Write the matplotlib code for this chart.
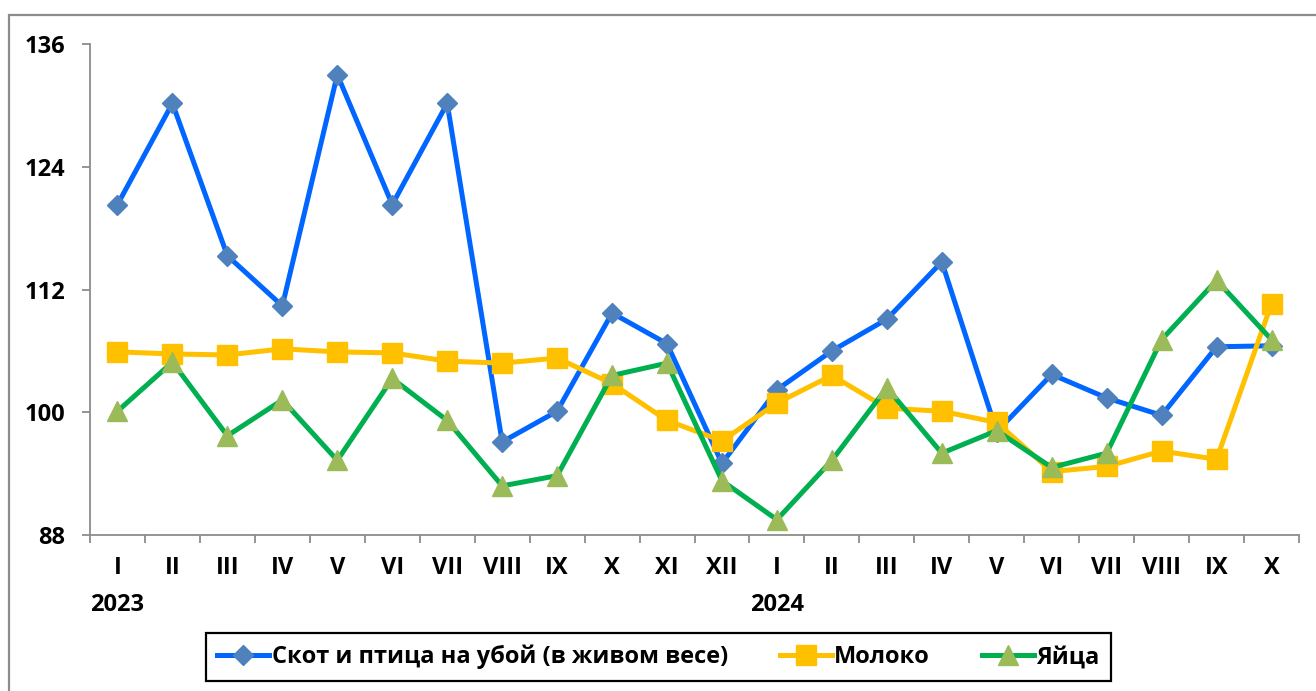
import matplotlib
matplotlib.use("Agg")
import matplotlib.pyplot as plt
from matplotlib.patches import Rectangle

months = ["I", "II", "III", "IV", "V", "VI", "VII", "VIII", "IX", "X", "XI", "XII",
          "I", "II", "III", "IV", "V", "VI", "VII", "VIII", "IX", "X"]
years = {0: "2023", 12: "2024"}

livestock = [120.3, 130.2, 115.3, 110.4, 133.0, 120.3, 130.2, 97.1, 100.1, 109.7, 106.7, 95.0,
             102.2, 106.0, 109.1, 114.7, 98.1, 103.7, 101.4, 99.7, 106.4, 106.5]
milk = [105.9, 105.7, 105.6, 106.2, 105.9, 105.8, 105.0, 104.8, 105.3, 102.8, 99.2, 97.2,
        100.9, 103.6, 100.4, 100.1, 99.0, 94.2, 94.7, 96.2, 95.4, 110.6]
eggs = [100.1, 104.9, 97.7, 101.2, 95.3, 103.3, 99.2, 92.8, 93.8, 103.6, 104.8, 93.3,
        89.5, 95.3, 102.4, 96.0, 98.2, 94.6, 96.0, 107.1, 112.9, 107.1]

series_names = ["Скот и птица на убой (в живом весе)", "Молоко", "Яйца"]
yticks = [88, 100, 112, 124, 136]

plt.rcParams['font.family'] = ['Open Sans', 'DejaVu Sans']
plt.rcParams['font.weight'] = 'bold'

W, H = 1316, 691
fig = plt.figure(figsize=(W / 100, H / 100), dpi=100)

# outer chart frame (extends past right/bottom edges)
fig.patches.append(Rectangle((9 / W, -0.1), 1.2, 1 - 15 / H + 0.1, transform=fig.transFigure,
                             fill=False, edgecolor='#8c8c8c', linewidth=1.6))

ax = fig.add_axes([90 / W, (H - 535) / H, (1299 - 90) / W, (535 - 44) / H])
x = list(range(len(months)))

ax.plot(x, livestock, color='#0066FF', lw=3.6, marker='D', markersize=10,
        markerfacecolor='#4F81BD', markeredgecolor='#4F81BD', label=series_names[0], zorder=3)
ax.plot(x, milk, color='#FFC000', lw=3.6, marker='s', markersize=14,
        markerfacecolor='#FFC000', markeredgecolor='#FFC000', label=series_names[1], zorder=3)
ax.plot(x, eggs, color='#00B050', lw=3.6, marker='^', markersize=14,
        markerfacecolor='#9BBB59', markeredgecolor='#9BBB59', label=series_names[2], zorder=3)

ax.set_xlim(-0.5, len(months) - 0.5)
ax.set_ylim(88, 136)
ax.set_yticks(yticks)
ax.set_yticklabels([str(v) for v in yticks], fontsize=17, fontweight='bold')
ax.set_xticks([i - 0.5 for i in range(len(months) + 1)])
ax.set_xticklabels([])
ax.tick_params(axis='x', length=6, width=1.3, color='#8c8c8c', direction='out')
ax.tick_params(axis='y', length=6, width=1.3, color='#8c8c8c', direction='out', pad=12)

for i, m in enumerate(months):
    ax.text(i, -0.068, m, transform=ax.get_xaxis_transform(), ha='center', va='center',
            fontsize=17, fontweight='bold')
for i, yr in years.items():
    ax.text(i, -0.142, yr, transform=ax.get_xaxis_transform(), ha='center', va='center',
            fontsize=17, fontweight='bold')

for s in ['top', 'right']:
    ax.spines[s].set_visible(False)
for s in ['left', 'bottom']:
    ax.spines[s].set_color('#8c8c8c')
    ax.spines[s].set_linewidth(1.3)

leg = fig.legend(loc='center', bbox_to_anchor=((205 + 1112) / 2 / W, (H - 657) / H),
                 ncol=3, frameon=True, fancybox=False, edgecolor='black', framealpha=1,
                 handlelength=2.2, columnspacing=2.2, handletextpad=0.1,
                 prop={'size': 17, 'weight': 'bold'}, borderpad=0.5)
leg.get_frame().set_linewidth(1.6)

fig.savefig("out.png", dpi=100)
